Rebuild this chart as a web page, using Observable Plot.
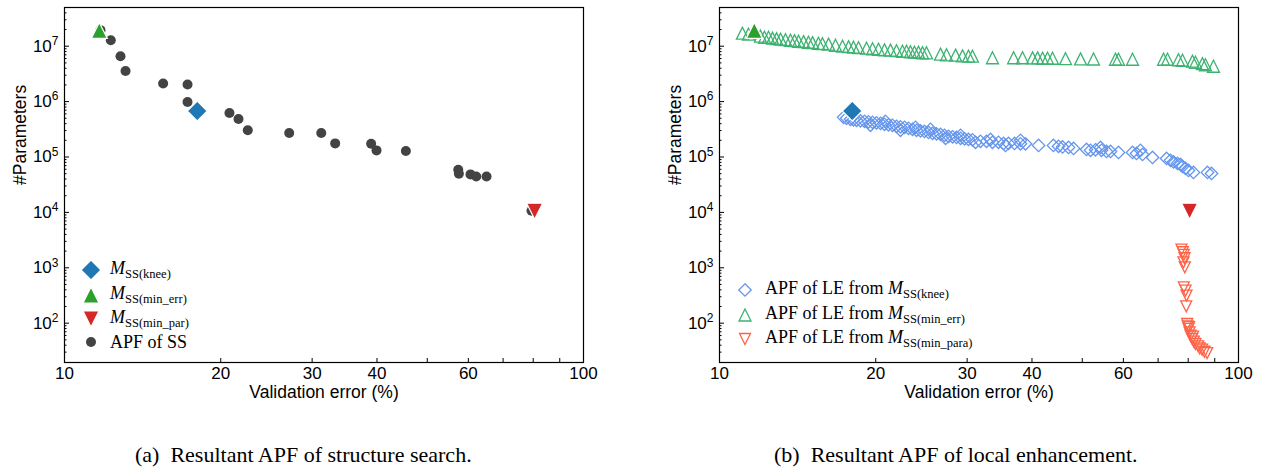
<!DOCTYPE html>
<html>
<head>
<meta charset="utf-8">
<script src="https://cdn.jsdelivr.net/npm/d3@7"></script>
<script src="https://cdn.jsdelivr.net/npm/@observablehq/plot@0.6"></script>
<style>
  html, body { margin: 0; padding: 0; background: #fff; }
  #fig { position: relative; width: 1261px; height: 468px; overflow: hidden; background: #fff; }
  .panel { position: absolute; top: 0; }
  .legend { position: absolute; left: 0; top: 0; font-family: "Liberation Serif", "Times New Roman", serif; font-size: 18px; color: #000; }
  .row { position: absolute; white-space: nowrap; display: flex; align-items: center; transform: translateY(-50%); }
  .row svg { display: block; flex: none; }
  .row sub { font-size: 12.5px; vertical-align: -4px; font-style: normal; }
  .caption { position: absolute; font-family: "Liberation Serif", "Times New Roman", serif; font-size: 22px; white-space: pre; transform: translateY(-50%); color: #000; }
</style>
</head>
<body>
<div id="fig"></div>
<script>
// ---------------- data ----------------
const xTicks = [10, 20, 30, 40, 60, 100];
const xTickLabels = ["10", "20", "30", "40", "60", "100"];
const xMinorTicks = [50, 70, 80, 90];
const yTicks = [1e2, 1e3, 1e4, 1e5, 1e6, 1e7];
const yTickLabels = ["10^2", "10^3", "10^4", "10^5", "10^6", "10^7"];
const yMinorTicks = [30, 40, 50, 60, 70, 80, 90,
  200, 300, 400, 500, 600, 700, 800, 900,
  2e3, 3e3, 4e3, 5e3, 6e3, 7e3, 8e3, 9e3,
  2e4, 3e4, 4e4, 5e4, 6e4, 7e4, 8e4, 9e4,
  2e5, 3e5, 4e5, 5e5, 6e5, 7e5, 8e5, 9e5,
  2e6, 3e6, 4e6, 5e6, 6e6, 7e6, 8e6, 9e6,
  2e7, 3e7, 4e7];

// (a) structure search: APF of SS
const ssErr = [11.73, 12.28, 12.82, 13.11, 15.49, 17.26, 17.26, 18.02, 20.79, 21.64, 22.55, 27.10,
  31.24, 33.23, 38.98, 39.92, 45.47, 57.37, 57.53, 60.57, 62.13, 65.04, 79.4];
const ssPar = [1.95e7, 1.28e7, 6.59e6, 3.57e6, 2.12e6, 2.03e6, 9.83e5, 6.76e5, 6.22e5, 4.85e5, 3.03e5, 2.71e5,
  2.71e5, 1.76e5, 1.74e5, 1.316e5, 1.279e5, 5.89e4, 4.99e4, 4.85e4, 4.46e4, 4.46e4, 1.07e4];
const kneeErr = [18.02], kneePar = [6.76e5];
const minErrErr = [11.67], minErrPar = [1.93e7];
const minParErr = [80.5], minParPar = [1.05e4];

// (b) local enhancement
const leMinErrErr = [11.07, 11.37, 11.99, 12.21, 12.43, 12.65, 12.88, 13.11, 13.40, 13.70, 13.95, 14.20, 14.52,
  14.84, 15.11, 15.51, 15.79, 16.22, 16.73, 17.26, 17.73, 18.12, 18.53, 19.20, 19.72, 20.25, 20.79, 21.35,
  21.93, 22.52, 22.93, 23.33, 23.75, 24.18, 24.61, 25.05, 26.66, 27.38, 28.50, 29.39, 30.18, 30.72, 33.57,
  36.87, 38.36, 40.10, 41.01, 41.93, 42.86, 43.82, 46.42, 49.62, 52.56, 57.94, 58.72, 62.49, 71.71, 72.99,
  76.62, 78.00, 81.53, 82.62, 85.21, 86.36, 89.49];
const leMinErrPar = [1.72e7, 1.65e7, 1.52e7, 1.45e7, 1.45e7, 1.40e7, 1.37e7, 1.34e7, 1.31e7, 1.28e7, 1.26e7, 1.23e7, 1.21e7,
  1.18e7, 1.16e7, 1.13e7, 1.11e7, 1.09e7, 1.04e7, 1.00e7, 9.8e6, 9.6e6, 9.4e6, 9.2e6, 9.0e6, 8.8e6, 8.6e6, 8.5e6,
  8.3e6, 8.1e6, 8.1e6, 7.95e6, 7.8e6, 7.8e6, 7.6e6, 7.6e6, 7.2e6, 7.0e6, 6.9e6, 6.7e6, 6.6e6, 6.6e6, 6.19e6,
  6.19e6, 6.19e6, 6.15e6, 6.15e6, 6.07e6, 6.07e6, 6.07e6, 5.95e6, 5.9e6, 5.88e6, 5.82e6, 5.82e6, 5.82e6, 5.82e6, 5.82e6,
  5.7e6, 5.58e6, 5.36e6, 5.14e6, 4.83e6, 4.63e6, 4.35e6];

const leKneeErr = [17.34, 17.57, 17.88, 18.12, 18.37, 18.69, 19.03, 19.37, 19.72, 20.07, 20.43, 20.79, 21.16, 21.54,
  21.93, 22.32, 22.73, 23.13, 23.55, 23.97, 24.40, 24.83, 25.28, 25.73, 26.19, 26.66, 27.14, 27.63, 28.12, 28.62,
  29.14, 29.66, 30.18, 30.72, 31.83, 32.69, 33.57, 34.48, 35.26, 36.05, 37.03, 38.02, 38.87, 41.19, 44.00, 45.00,
  45.81, 47.04, 48.10, 50.95, 51.86, 53.03, 54.45, 55.68, 56.68, 58.72, 62.49, 63.61, 65.32, 68.29, 72.67, 73.96,
  74.95, 76.29, 77.30, 78.00, 79.05, 80.11, 81.89, 87.14, 88.73,
  19.54, 20.88, 22.32, 23.86, 25.50, 27.26, 29.14, 31.14, 33.28, 35.57, 38.02, 54.22, 64.74];
const leKneePar = [5.20e5, 4.99e5, 4.79e5, 4.69e5, 4.59e5, 4.49e5, 4.40e5, 4.31e5, 4.22e5, 4.14e5, 4.05e5, 3.89e5, 3.81e5, 3.73e5,
  3.58e5, 3.50e5, 3.43e5, 3.29e5, 3.16e5, 3.03e5, 2.97e5, 2.90e5, 2.78e5, 2.67e5, 2.62e5, 2.56e5, 2.46e5, 2.36e5, 2.31e5, 2.26e5,
  2.17e5, 2.13e5, 2.08e5, 2.04e5, 1.92e5, 1.92e5, 1.84e5, 1.84e5, 1.76e5, 1.76e5, 1.76e5, 1.73e5, 1.73e5, 1.62e5, 1.62e5, 1.56e5,
  1.52e5, 1.49e5, 1.43e5, 1.37e5, 1.32e5, 1.35e5, 1.32e5, 1.26e5, 1.26e5, 1.21e5, 1.21e5, 1.16e5, 1.11e5, 9.8e4, 9.4e4, 8.7e4,
  8.15e4, 7.66e4, 7.35e4, 6.76e4, 6.22e4, 5.72e4, 5.27e4, 5.27e4, 5.05e4,
  3.73e5, 4.40e5, 3.03e5, 3.43e5, 3.16e5, 2.17e5, 2.46e5, 1.84e5, 2.08e5, 1.62e5, 2.00e5, 1.49e5, 1.32e5];

const leMinParaErr = [77.65, 78.10, 78.45, 78.70, 78.34, 78.80, 78.45, 79.05, 79.40, 79.29,
  79.64, 79.86, 80.11, 80.30, 80.47, 80.82, 81.44, 81.70, 82.02, 82.62, 83.62, 84.22, 85.11, 85.99, 87.02];
const leMinParaPar = [2134, 1907, 1711, 1485, 1257, 1021, 444, 387, 314, 201,
  96.7, 87.5, 78.6, 85, 68.2, 59.4, 51.8, 57, 46.3, 42.1, 38.1, 35.0, 33.2, 30.5, 28.9];

// legend labels
const legendA = ["knee", "min_err", "min_par", "APF of SS"];
const legendB = ["knee", "min_err", "min_para"];
const captionA = "(a)  Resultant APF of structure search.";
const captionB = "(b)  Resultant APF of local enhancement.";

// ---------------- helpers ----------------
const pts = (xs, ys) => xs.map((x, i) => ({x, y: ys[i]}));
const rOf = size => Math.sqrt(size / Math.PI);
const triUp = {draw(c, s) { const r = rOf(s); c.moveTo(0, -r); c.lineTo(r, r); c.lineTo(-r, r); c.closePath(); }};
const triDown = {draw(c, s) { const r = rOf(s); c.moveTo(0, r); c.lineTo(r, -r); c.lineTo(-r, -r); c.closePath(); }};
const diamond = {draw(c, s) { const r = rOf(s); c.moveTo(0, -r); c.lineTo(r, 0); c.lineTo(0, r); c.lineTo(-r, 0); c.closePath(); }};

const C = {
  knee: "#1f77b4", minErr: "#2ca02c", minPar: "#d62728", ss: "#434343",
  leKnee: "#6495ed", leMinErr: "#3cb371", leMinPara: "#ff6347"
};

function panel(width, marginLeft, marginRight, layers) {
  const svg = Plot.plot({
    width, height: 412, marginLeft, marginRight, marginTop: 7, marginBottom: 50,
    x: {type: "log", domain: [10, 100]},
    y: {type: "log", domain: [19.5, 5e7]},
    style: {fontFamily: '"Liberation Sans", Arial, sans-serif', fontSize: "17px", color: "#000", background: "transparent", overflow: "visible"},
    marks: [
      Plot.axisX({ticks: xMinorTicks, tickSize: -4, tickFormat: () => "", label: null}),
      Plot.axisX({ticks: xTicks, tickSize: -4, tickPadding: 8.5, tickFormat: d => xTickLabels[xTicks.indexOf(d)], label: null, fontSize: 17}),
      Plot.axisY({ticks: yMinorTicks, tickSize: -2.5, tickFormat: () => "", label: null}),
      Plot.axisY({ticks: yTicks, tickSize: -5, tickPadding: 11, tickFormat: d => yTickLabels[yTicks.indexOf(d)], label: null, fontSize: 17}),
      ...layers,
      Plot.frame({stroke: "#000", strokeWidth: 1.2}),
      Plot.text(["Validation error (%)"], {frameAnchor: "bottom", dy: 35.5, fontSize: 17.5}),
      Plot.text(["#Parameters"], {frameAnchor: "left", dx: -44, rotate: -90, fontSize: 17.5})
    ]
  });
  // matplotlib-like superscripts for 10^k
  svg.querySelectorAll("text").forEach(t => {
    const m = t.textContent.match(/^10\^(\d+)$/);
    if (!m) return;
    t.textContent = "10";
    const ts = document.createElementNS("http://www.w3.org/2000/svg", "tspan");
    ts.setAttribute("dy", "-0.55em");
    ts.setAttribute("font-size", "12px");
    ts.textContent = m[1];
    t.appendChild(ts);
  });
  return svg;
}

const big = {stroke: "#fff", strokeWidth: 1.2};
const panelA = panel(630, 64, 47, [
  Plot.dot(pts(ssErr, ssPar), {x: "x", y: "y", r: 5, fill: C.ss, stroke: "none"}),
  Plot.dot(pts(kneeErr, kneePar), {x: "x", y: "y", r: 10, symbol: diamond, fill: C.knee, ...big}),
  Plot.dot(pts(minErrErr, minErrPar), {x: "x", y: "y", r: 8, symbol: triUp, fill: C.minErr, ...big}),
  Plot.dot(pts(minParErr, minParPar), {x: "x", y: "y", r: 8, symbol: triDown, fill: C.minPar, ...big})
]);
const panelB = panel(631, 89, 23, [
  Plot.dot(pts(leKneeErr, leKneePar), {x: "x", y: "y", r: 6.2, symbol: diamond, fill: "none", stroke: C.leKnee, strokeWidth: 1.3}),
  Plot.dot(pts(leMinErrErr, leMinErrPar), {x: "x", y: "y", r: 6, symbol: triUp, fill: "none", stroke: C.leMinErr, strokeWidth: 1.3}),
  Plot.dot(pts(leMinParaErr, leMinParaPar), {x: "x", y: "y", r: 5.5, symbol: triDown, fill: "none", stroke: C.leMinPara, strokeWidth: 1.3}),
  Plot.dot(pts(kneeErr, kneePar), {x: "x", y: "y", r: 10, symbol: diamond, fill: C.knee, ...big}),
  Plot.dot(pts(minErrErr, minErrPar), {x: "x", y: "y", r: 8, symbol: triUp, fill: C.minErr, ...big}),
  Plot.dot(pts(minParErr, minParPar), {x: "x", y: "y", r: 8, symbol: triDown, fill: C.minPar, ...big})
]);

const fig = document.getElementById("fig");
const wa = document.createElement("div"); wa.className = "panel"; wa.style.left = "0px"; wa.appendChild(panelA); fig.appendChild(wa);
const wb = document.createElement("div"); wb.className = "panel"; wb.style.left = "630px"; wb.appendChild(panelB); fig.appendChild(wb);

// ---------------- legends ----------------
function symPath(sym, r) { const p = d3.path(); sym.draw(p, r * r * Math.PI); return p.toString(); }
function mk(sym, r, fill, stroke, sw) {
  if (sym === "circle") return `<svg width="24" height="24" viewBox="-12 -12 24 24"><circle r="${r}" fill="${fill}"/></svg>`;
  return `<svg width="24" height="24" viewBox="-12 -12 24 24"><path d="${symPath(sym, r)}" fill="${fill}" stroke="${stroke}" stroke-width="${sw}"/></svg>`;
}
const ms = s => `<i>M</i><sub>SS(${s})</sub>`;
const legA = document.createElement("div"); legA.className = "legend";
const rowsA = [
  [270, mk(diamond, 10, C.knee, "#fff", 1.2), ms(legendA[0])],
  [295, mk(triUp, 8, C.minErr, "#fff", 1.2), ms(legendA[1])],
  [319, mk(triDown, 8, C.minPar, "#fff", 1.2), ms(legendA[2])],
  [342, mk("circle", 5, C.ss), legendA[3]]
];
rowsA.forEach(([y, m, t]) => {
  const r = document.createElement("div"); r.className = "row";
  r.style.left = "79px"; r.style.top = y + "px";
  r.innerHTML = m + `<span style="margin-left:7px">${t}</span>`;
  legA.appendChild(r);
});
fig.appendChild(legA);

const legB = document.createElement("div"); legB.className = "legend";
const rowsB = [
  [290, mk(diamond, 6.2, "none", C.leKnee, 1.3), "APF of LE from " + ms(legendB[0])],
  [315, mk(triUp, 6, "none", C.leMinErr, 1.3), "APF of LE from " + ms(legendB[1])],
  [339, mk(triDown, 5.5, "none", C.leMinPara, 1.3), "APF of LE from " + ms(legendB[2])]
];
rowsB.forEach(([y, m, t]) => {
  const r = document.createElement("div"); r.className = "row";
  r.style.left = "733px"; r.style.top = y + "px";
  r.innerHTML = m + `<span style="margin-left:8px">${t}</span>`;
  legB.appendChild(r);
});
fig.appendChild(legB);

// ---------------- captions ----------------
[[captionA, 135], [captionB, 774]].forEach(([t, x]) => {
  const c = document.createElement("div"); c.className = "caption";
  c.style.left = x + "px"; c.style.top = "455px"; c.textContent = t;
  fig.appendChild(c);
});
</script>
</body>
</html>
